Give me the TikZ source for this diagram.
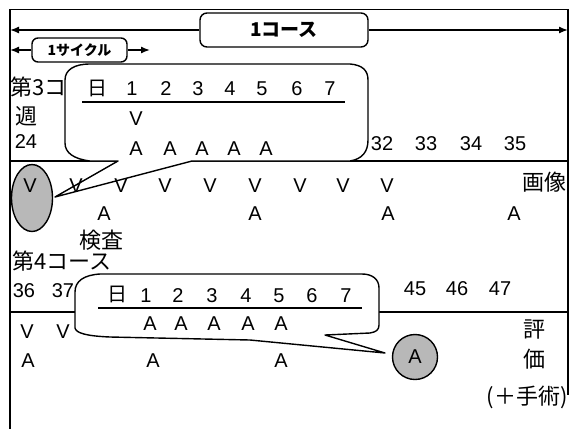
\documentclass[tikz,border=0pt]{standalone}
\usepackage{fontspec}
\setmainfont{Liberation Sans}
\newfontfamily\jp{Noto Sans CJK JP}
\usetikzlibrary{arrows.meta,shapes.geometric}
\begin{document}
\begin{tikzpicture}[x=1pt,y=-1pt,
  lat/.style={font=\fontsize{20}{20}\selectfont, inner sep=0pt, anchor=base},
  jpn/.style={font=\jp\fontsize{22}{22}\selectfont, inner sep=0pt},
  frameline/.style={line width=1.6pt},
  rowrule/.style={line width=2.6pt},
  span/.style={line width=1.4pt, -{Latex[length=9pt,width=7pt]}},
  tag/.style={draw, line width=1.4pt, rounded corners=7pt, fill=white, inner sep=0pt},
  balloon/.style={line width=1.4pt, line join=round},
  spot/.style={draw, line width=1.4pt, fill=black!28, inner sep=0pt}
]
\fill[white] (0,0) rectangle (572,429);
\useasboundingbox (0,0) rectangle (572,429);

% outer frame
\draw[frameline] (10,9) -- (10,429);
\draw[line width=1pt] (10,9) -- (568,9);
\draw[line width=1.4pt] (568,9) -- (568,395);

% row separators
\draw[rowrule] (10,161) -- (118,161);
\draw[rowrule] (192,161) -- (568,161);
\draw[rowrule] (10,312) -- (75,312);
\draw[rowrule] (379,312) -- (568,312);

% course span
\node[tag, minimum width=168pt, minimum height=34pt,
      font=\jp\bfseries\fontsize{19}{19}\selectfont] (course) at (284,30) {1コース};
\coordinate (courseL) at (10,30);
\coordinate (courseR) at (568,30);
\draw[span] (course.west) -- (courseL);
\draw[span] (course.east) -- (courseR);

% cycle span
\node[tag, rounded corners=6pt, minimum width=95pt, minimum height=24pt,
      font=\jp\bfseries\fontsize{14}{14}\selectfont] (cycle) at (79.5,50) {1サイクル};
\coordinate (cycleL) at (10,50);
\coordinate (cycleR) at (150,50);
\draw[span] (cycle.west) -- (cycleL);
\draw[span] (cycle.east) -- (cycleR);

% week 3 labels
\node[jpn, anchor=west] (wk3) at (10,87) {第3コ};
\node[jpn] (shu) at (27,116) {週};
\node[lat] (d24) at (26,148) {24};
\foreach \x/\t [count=\i] in {382/32,426/33,471/34,515/35}
  \node[lat] (dd\i) at (\x,150) {\t};

% image marker (ellipse) under the first balloon's tail
\node[spot, ellipse, minimum width=41pt, minimum height=67pt] (img) at (32,198) {};

% first balloon: one week of the cycle
\fill[white] (65,80) .. controls (65,70) and (74,64) .. (90,64) -- (350,64)
  .. controls (362,65) and (368,70) .. (368,80) -- (368,140)
  .. controls (368,152) and (362,159) .. (350,161) -- (90,161)
  .. controls (74,159) and (65,153) .. (65,143) -- cycle;
\draw[balloon] (192,161) -- (350,161) .. controls (362,159) and (368,152) .. (368,140)
  -- (368,80) .. controls (368,70) and (362,65) .. (350,64) -- (90,64)
  .. controls (74,64) and (65,70) .. (65,80) -- (65,143)
  .. controls (65,153) and (74,159) .. (90,161) -- (118,161) -- (55,197) -- cycle;

\node[jpn, font=\jp\fontsize{20}{20}\selectfont] (dayA) at (97,88) {日};
\foreach \x [count=\i] in {132,166,198,230,262,297,330}
  \node[lat] (ha\i) at (\x,95) {\i};
\draw[line width=1.5pt] (82,102) -- (345,102);
\node[lat] (bv1) at (136,125) {V};
\foreach \x [count=\i] in {136,170,202,234,266}
  \node[lat] (ba\i) at (\x,155) {A};

% imaging row
\foreach \x [count=\i] in {30,76,121,165,210,255,300,343,387}
  \node[lat] (iv\i) at (\x,192) {V};
\node[jpn, anchor=east] (gazo) at (567,182) {画像};
\foreach \x [count=\i] in {104,255,388,514}
  \node[lat] (ia\i) at (\x,220) {A};
\node[jpn] (kensa) at (101,240) {検査};

% week 4 labels
\node[jpn, anchor=west] (wk4) at (12,261) {第4コース};
\node[lat] (d36) at (24,297) {36};
\node[lat] (d37) at (63,297) {37};
\foreach \x/\t [count=\i] in {415/45,457/46,500/47}
  \node[lat] (de\i) at (\x,295) {\t};

% second balloon: final week
\draw[balloon, fill=white] (325,335) -- (370,333) .. controls (376,332) and (379,330) .. (379,325)
  -- (379,288) .. controls (379,279) and (372,274) .. (362,274) -- (100,274)
  .. controls (84,275) and (75,281) .. (75,292) -- (75,328)
  .. controls (76,333) and (86,336) .. (110,337) -- (250,340) -- (385,353) -- cycle;

\node[jpn, font=\jp\fontsize{20}{20}\selectfont] (dayB) at (117,294) {日};
\foreach \x [count=\i] in {146,178,212,246,279,312,346}
  \node[lat] (hb\i) at (\x,302) {\i};
\draw[line width=1.5pt] (98,308) -- (362,308);
\foreach \x [count=\i] in {150,181,214,248,281}
  \node[lat] (ca\i) at (\x,330) {A};

% evaluation row
\node[lat] (ev1) at (27,338) {V};
\node[lat] (ev2) at (63,338) {V};
\foreach \x [count=\i] in {28,153,281}
  \node[lat] (ea\i) at (\x,367) {A};
\node[spot, circle, minimum size=45pt, font=\fontsize{20}{20}\selectfont] (evalA) at (415,357) {A};
\node[jpn] (hyo) at (534,330) {評};
\node[jpn] (ka) at (534,359) {価};
\node[jpn, font=\jp\fontsize{22}{22}\selectfont] (shujutsu) at (527,397) {(＋手術)};
\end{tikzpicture}
\end{document}
